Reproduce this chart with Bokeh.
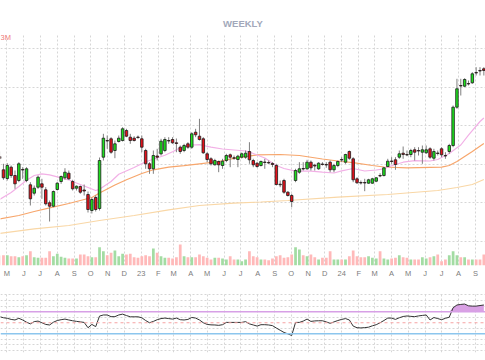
import numpy as np
import pandas as pd
from bokeh.plotting import figure
from bokeh.layouts import column
from bokeh.models import ColumnDataSource, Range1d, FixedTicker, LinearAxis, Span, Label
from bokeh.embed import file_html
from bokeh.resources import INLINE

# ---------------- data (weekly candles, first week 2022-04-18) ----------------
first_week = "2022-04-18"

opens = [144, 130.7, 122, 133.3, 125, 120, 131, 120, 115.7, 107.3,
         113.3, 116.7, 110.7, 97.7, 94.3, 111, 119, 122.7, 127.3, 119,
         112.3, 114, 110.5, 106, 90, 103, 92, 143.3, 160, 161.7,
         150, 159, 160, 170, 163.3, 162.3, 163.5, 161.7, 150, 136.7,
         131.7, 144.5, 146.7, 150, 160, 161, 157.7, 153.3, 150, 156.7,
         153.3, 168.3, 164.3, 161.7, 146.7, 141.7, 135.7, 139, 135, 140,
         145.7, 142.7, 141, 143.3, 143.3, 149, 140, 137.3, 135, 138.5,
         138, 137, 135, 116.3, 120, 108.3, 105, 120, 128.3, 132,
         131.7, 138.3, 135.3, 131.7, 136.5, 136, 138.3, 130.7, 135, 141,
         138.3, 149, 141.7, 121.7, 118, 118, 117.3, 117.3, 119.3, 125,
         125, 134, 139.5, 140.7, 143.3, 147.3, 146, 146, 150.7, 150,
         148.3, 147.7, 151.7, 142.3, 147.5, 151.7, 145, 149, 155, 193.3,
         215, 214.3, 217, 217.7, 228, 230, 231.7]

closes = [142, 122.7, 135, 125, 116.7, 136.7, 130.5, 131.7, 101.7, 112.3,
          123.3, 113.3, 96.7, 94.3, 109, 117.3, 124, 128.3, 121.7, 111.7,
          114.3, 108.3, 109.5, 91, 101, 91, 140, 162.3, 159.5, 148.3,
          156.7, 162.3, 171.7, 164.3, 160, 160, 163, 153.3, 136.7, 131.7,
          145, 143.3, 159.3, 161, 159.5, 157.7, 157, 149, 155, 153.3,
          166.7, 165.7, 161, 147.7, 141, 136.7, 140, 135.7, 139.3, 145,
          143.3, 142.3, 144.3, 146.7, 147.3, 140.7, 135.7, 134, 139, 138,
          137.5, 136, 116, 115.7, 108.3, 105, 99, 130, 131.7, 131.5,
          138.3, 132.7, 134.5, 137.3, 136, 135.5, 130.7, 135, 139, 140.5,
          146, 142.3, 120.7, 117.7, 117.5, 117.5, 120.7, 121.7, 122.7, 124.5,
          132.7, 139.3, 139, 136, 146.7, 146, 145.5, 150, 148.3, 149.5,
          150.7, 150.7, 143.3, 149, 147, 145.7, 144.5, 155, 193.3, 211.7,
          214.5, 221, 216.5, 226.7, 227.5, 229.5, 230]

highs = [149, 136.7, 137.3, 135, 130, 138.3, 133.3, 133.3, 118.3, 115,
         125, 121.7, 113.3, 100, 110, 118.3, 125, 132.3, 130, 120.7,
         115, 115, 116, 109, 103, 105, 143, 166.7, 165, 163.3,
         160, 165, 173.3, 171.7, 166.7, 164.3, 165, 165, 151.7, 138.3,
         150, 151.7, 161.7, 163.3, 163.3, 163.3, 162, 155, 156.7, 158.3,
         168.3, 171.7, 181.7, 163.3, 148.3, 143.3, 141.7, 140, 141.7, 146.7,
         147, 145, 145.7, 148, 150, 158.3, 141.7, 138.3, 140, 141.7,
         140, 138.3, 136.7, 120, 121.7, 109.3, 106.7, 131.7, 138.3, 138.3,
         140.7, 140, 136.7, 138.3, 138.3, 138.3, 140, 136.7, 140, 143.3,
         146.7, 150, 143.3, 123.3, 120, 121.7, 121.7, 122.7, 123.3, 127.3,
         133.3, 141.7, 143.3, 143.3, 150, 154, 150, 151.7, 153.3, 153.3,
         155, 155, 153.3, 151.7, 150, 153.3, 148.3, 156.7, 195, 221.7,
         221.7, 222.3, 220, 228.3, 233.3, 233.3, 233.3]

lows = [138, 120.7, 120, 122.7, 111.7, 118.3, 121.7, 118.3, 95, 105,
        111.7, 101.7, 95, 79, 93.3, 110, 116.7, 120.7, 120.7, 110,
        110, 106.7, 105, 88, 87, 89, 90, 140, 151.7, 146.7,
        142.3, 158, 159, 163.3, 156.7, 159, 161.7, 148.3, 131.7, 126.7,
        126.7, 140, 145, 148.3, 156.7, 156.7, 148.3, 146.7, 148.3, 151.7,
        151.7, 163.3, 160, 146.7, 138.3, 135, 135, 128.3, 131.7, 138.3,
        133.3, 140.7, 133.3, 142, 141.7, 136.7, 133.3, 132.7, 134, 131.7,
        136.7, 133.3, 115, 113.3, 106.7, 104, 93.3, 118.3, 126.7, 130,
        130.7, 130, 130, 130.7, 135, 132.7, 128.3, 128.3, 133.3, 138.3,
        136.7, 140.7, 118.3, 116.7, 116, 109.3, 116.7, 116.7, 118.3, 123.3,
        124, 133.3, 136.7, 130.7, 141.7, 141.7, 144.3, 143.3, 140, 145,
        136.7, 146.7, 141.7, 140, 145, 143.3, 141.7, 146.7, 153.3, 191.7,
        205, 213.3, 215, 216.7, 225, 225, 225]

volume_m = [1.0, 1.03, 1.03, 0.93, 0.93, 0.83, 0.93, 1.03, 1.43, 0.83,
            0.77, 0.77, 0.77, 1.43, 0.93, 1.17, 0.87, 0.77, 0.7, 0.7,
            0.7, 1.1, 1.1, 0.93, 0.83, 0.83, 1.83, 1.43, 1.03, 1.27,
            1.5, 0.93, 1.17, 1.1, 1.17, 0.83, 0.77, 0.93, 1.03, 0.93,
            1.7, 1.27, 0.93, 0.77, 0.77, 0.7, 0.83, 2.1, 0.93, 0.83,
            0.83, 0.83, 1.1, 0.93, 0.77, 0.6, 0.77, 0.77, 0.7, 0.6,
            0.93, 0.6, 0.6, 0.43, 0.6, 1.43, 0.93, 0.83, 0.6, 0.6,
            0.53, 0.7, 0.93, 1.03, 0.77, 0.83, 1.1, 1.83, 1.6, 1.03,
            0.93, 1.1, 0.83, 0.6, 0.77, 0.77, 1.43, 0.6, 0.6, 0.6,
            0.6, 0.93, 1.5, 0.93, 0.83, 0.83, 0.93, 0.77, 0.7, 1.43,
            0.7, 0.6, 0.7, 0.77, 1.03, 0.83, 0.77, 0.6, 0.6, 0.6,
            0.83, 0.7, 0.83, 0.93, 1.1, 0.43, 0.6, 1.03, 1.43, 1.03,
            0.83, 0.83, 0.6, 0.6, 0.6, 0.6, 1.1]

rsi = [61, 59, 58, 56, 55, 58, 55, 51, 48, 52,
       53, 50, 47, 46, 51, 54, 55.5, 56.6, 55, 53.6,
       52.5, 51.5, 50.6, 41, 47, 43, 62, 64, 64, 61,
       61, 64, 65.5, 63, 60.7, 60.7, 60.7, 59, 54, 50,
       52.4, 55.5, 57.5, 58.4, 57.5, 56.6, 58.4, 55.5, 55, 56,
       59.5, 58.4, 55, 50, 47, 46.2, 46, 45.3, 46.5, 50.6,
       50.6, 50.6, 50.6, 50.6, 52, 48, 46, 44, 46.5, 46.5,
       46, 44.8, 40.5, 36.5, 32.5, 30, 27, 50.6, 50.6, 53,
       56.6, 52.4, 53.3, 53.6, 53.6, 51.5, 49, 51.5, 54, 56,
       57.5, 55, 44, 41, 40.7, 41.2, 42, 44.5, 46.5, 50,
       54, 58.4, 58.4, 56, 59, 61.3, 62.2, 61.5, 61, 62.3,
       63.2, 64, 55, 59.4, 57.5, 55.5, 58, 60, 77, 82,
       83, 83.7, 80.5, 80, 80, 81, 82]

# moving averages: (week index, value)
ma_fast_idx = [0, 3, 5, 7, 9, 11, 13, 15, 18, 20, 23, 25, 26, 29, 31, 35, 38, 40, 43, 45,
               47, 50, 52, 53, 55, 58, 61, 64, 65, 68, 69, 70, 72, 74, 77, 81, 84, 87, 89, 92,
               95, 98, 100, 102, 105, 108, 112, 114, 117, 119, 120, 122, 125, 126]
ma_fast_val = [101, 108, 114, 120.2, 125, 126.7, 125.7, 123.7, 120.7, 117.5, 113, 110, 111.2, 119, 126.3,
               133, 138.8, 141.3, 145.3, 148.7, 152.8, 155.5, 155.8, 155, 153.3, 151.5, 150.5, 149.5,
               148.5, 144, 142.5, 140, 135, 132, 129.3, 129.3, 128.3, 127.5, 129.7, 132, 129.5, 130.5,
               131.7, 134.7, 138.3, 139.8, 139.5, 141, 147, 152.8, 155.5, 165.4, 179, 182.5]
ma_mid_idx = [0, 5, 9, 13, 18, 21, 24, 26, 30, 33, 37, 40, 44, 48, 52, 57, 61, 67, 73, 78,
              84, 89, 92, 97, 100, 106, 115, 117, 119, 121, 123, 126]
ma_mid_val = [81.5, 85, 89, 92.7, 97, 100, 103, 107.5, 115.5, 120.7, 127, 130.7, 133.3, 134.8, 136.7,
              139, 142.2, 145.7, 146, 145, 141.5, 139, 137.8, 135, 133.5, 132.7, 133.3, 135, 139, 144,
              149, 157]
ma_slow_idx = [0, 9, 18, 26, 35, 44, 52, 61, 68, 75, 88, 101, 114, 119, 123, 126]
ma_slow_val = [67, 71.7, 75, 80, 85, 90.7, 95, 97.3, 98.5, 100, 103.3, 106, 110, 113, 116, 121]

month_labels = ["M", "J", "J", "A", "S", "O", "N", "D", "23", "F", "M", "A", "M", "J", "J",
                "A", "S", "O", "N", "D", "24", "F", "M", "A", "M", "J", "J", "A", "S"]
price_grid = [59, 97.6, 136.2, 174.8, 213.4, 252]
rsi_grid = [0, 10, 20, 40, 60, 80, 90, 100]
rsi_levels = {"over": 70, "mid": 50, "under": 30}
title_text = "WEEKLY"
vol_text = "3M"

# ---------------- build ----------------
n = len(opens)
for arr in (closes, highs, lows, volume_m, rsi):
    if len(arr) != n:
        raise ValueError("length mismatch %d vs %d" % (len(arr), n))

epoch = pd.Timestamp("2022-01-01")
week_dates = pd.date_range(first_week, periods=n, freq="7D")
xd = np.array((week_dates - epoch).days, dtype=float)
month_days = [int((d - epoch).days) for d in pd.date_range("2022-05-01", periods=len(month_labels), freq="MS")]

o = np.array(opens, float); c = np.array(closes, float)
up = c >= o
GREEN, RED = "#1ee01e", "#e5121c"
VGREEN, VRED = "#a3dca3", "#ffb9b9"
src = ColumnDataSource(dict(
    x=xd, high=highs, low=lows,
    top=np.maximum(o, c), bottom=np.minimum(o, c),
    fill=[GREEN if u else RED for u in up],
    vol=volume_m, vcol=[VGREEN if u else VRED for u in up],
))

W = 485
X_START, X_END = 108.6, 992.0
GRID_COL = "#d6d6d6"

p = figure(width=W, height=285, x_range=Range1d(X_START, X_END), y_range=Range1d(35, 267),
           x_axis_location=None, y_axis_location=None, toolbar_location=None,
           output_backend="svg", min_border_left=0, min_border_right=0,
           min_border_top=33, min_border_bottom=20)
p.outline_line_color = None
p.xgrid.ticker = FixedTicker(ticks=month_days)
p.ygrid.ticker = FixedTicker(ticks=price_grid)
for g in (p.xgrid, p.ygrid):
    g.grid_line_color = GRID_COL
    g.grid_line_dash = "2 2"
    g.grid_line_width = 1

p.title.text = title_text
p.title.align = "center"
p.title.text_font = "Liberation Sans"
p.title.text_font_size = "9.5px"
p.title.text_font_style = "bold"
p.title.text_color = "#a2a8ba"
p.title.standoff = 9

ax = LinearAxis(ticker=FixedTicker(ticks=month_days),
                major_label_overrides={d: t for d, t in zip(month_days, month_labels)})
ax.axis_line_color = None
ax.major_tick_line_color = None
ax.minor_tick_line_color = None
ax.major_tick_out = 0
ax.major_tick_in = 0
ax.major_label_standoff = 3
ax.major_label_text_font = "Liberation Sans"
ax.major_label_text_font_size = "7.5px"
ax.major_label_text_color = "#7c7c7c"
p.add_layout(ax, "below")

p.extra_y_ranges = {"vol": Range1d(0, 23.2)}
p.vbar(x="x", width=5.0, top="vol", bottom=0, fill_color="vcol", line_color=None,
       y_range_name="vol", source=src)

p.line(xd[ma_slow_idx], ma_slow_val, line_color="#f9d7a6", line_width=1.2)
p.line(xd[ma_mid_idx], ma_mid_val, line_color="#f7a66c", line_width=1.2)
p.line(xd[ma_fast_idx], ma_fast_val, line_color="#f2b0e6", line_width=1.2)

p.segment(x0="x", y0="low", x1="x", y1="high", line_color="#7f7f7f", line_width=1, source=src)
p.vbar(x="x", width=4.6, top="top", bottom="bottom", fill_color="fill",
       line_color="#1c1c1c", line_width=0.8, source=src)

p.add_layout(Label(x=X_START, y=263, text=vol_text, text_font="Liberation Sans",
                   text_font_size="7.5px", text_color="#f07a7a", text_baseline="middle",
                   text_align="left"))

# ---------------- RSI panel ----------------
q = figure(width=W, height=75, x_range=p.x_range, y_range=Range1d(-3.6, 102.7),
           x_axis_location=None, y_axis_location=None, toolbar_location=None,
           output_backend="svg", min_border_left=0, min_border_right=0,
           min_border_top=8, min_border_bottom=8)
q.outline_line_color = None
q.xgrid.ticker = FixedTicker(ticks=month_days)
q.ygrid.ticker = FixedTicker(ticks=rsi_grid)
for g in (q.xgrid, q.ygrid):
    g.grid_line_color = GRID_COL
    g.grid_line_dash = "2 2"
    g.grid_line_width = 1

rsi_arr = np.array(rsi, float)
q.varea(x=xd, y1=np.full(n, rsi_levels["over"]), y2=np.maximum(rsi_arr, rsi_levels["over"]),
        fill_color="#d9a1e4")
q.add_layout(Span(location=rsi_levels["over"], dimension="width", line_color="#d7a0e6", line_width=1.5))
q.add_layout(Span(location=rsi_levels["under"], dimension="width", line_color="#8cc6ee", line_width=1.5))
q.add_layout(Span(location=rsi_levels["mid"], dimension="width", line_color="#f6a3a3",
                  line_width=1, line_dash="3 3"))
q.line(xd, rsi, line_color="#333333", line_width=1)

layout = column(p, q, spacing=0)
open("out.html", "w").write(file_html(layout, INLINE))
